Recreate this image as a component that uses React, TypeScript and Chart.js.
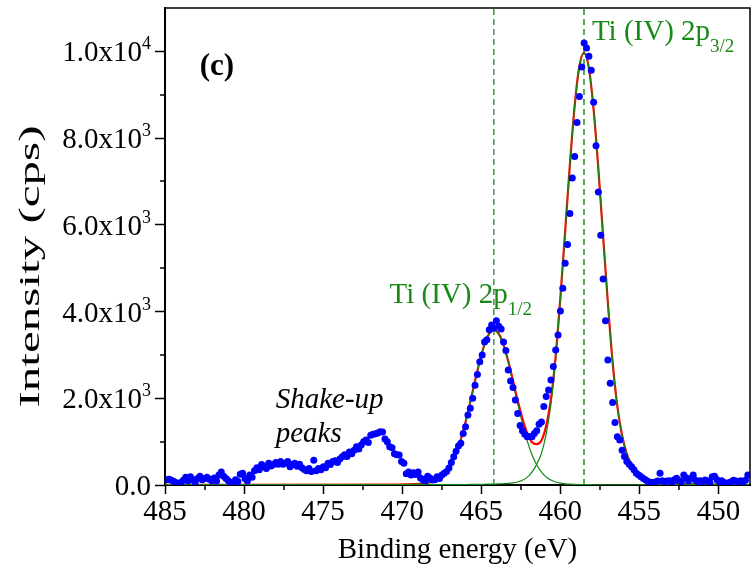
import React, { useEffect, useRef } from "react";
import { Chart, registerables } from "chart.js";

Chart.register(...registerables);

// ---------- axes ----------
const X_MIN = 448;
const X_MAX = 485;
const Y_MIN = 0;
const Y_MAX = 11000;
const X_TICKS = [485, 480, 475, 470, 465, 460, 455, 450];
const X_MINOR = [482.5, 477.5, 472.5, 467.5, 462.5, 457.5, 452.5];
const Y_TICKS = [0, 2000, 4000, 6000, 8000, 10000];
const Y_MINOR = [1000, 3000, 5000, 7000, 9000];

// ---------- measured spectrum (binding energy grid start/step, intensity in cps) ----------
const ENERGY_START = 484.89;
const ENERGY_STEP = 0.15;
const INTENSITY = [
  120, 130, 110, 80, 50, 40, 60, 110, 180, 90,
  190, 120, 60, 150, 200, 120, 150, 180, 130, 100,
  160, 90, 230, 300, 200, 150, 100, 60, 40, 120,
  80, 250, 270, 150, 90, 230, 180, 330, 400, 350,
  470, 420, 380, 500, 440, 470, 520, 480, 540, 480,
  500, 540, 420, 470, 500, 430, 480, 400, 360, 330,
  380, 310, 570, 330, 380, 350, 420, 400, 500, 470,
  540, 560, 520, 600, 650, 700, 660, 760, 720, 800,
  880, 830, 920, 1000, 1040, 980, 1150, 1170, 1180, 1200,
  1230, 1220, 1060, 1000, 880, 860, 720, 700, 690, 540,
  500, 260, 300, 230, 280, 240, 300, 160, 120, 100,
  200, 160, 115, 120, 190, 150, 230, 270, 310, 390,
  520, 650, 780, 900, 960, 1190, 1345, 1615, 1770, 2000,
  2300, 2550, 2840, 3000, 3300, 3350, 3580, 3690, 3620, 3790,
  3660, 3600, 3300, 3100, 2650, 2400, 2250, 1960, 1650, 1370,
  1250, 1170, 1110, 1120, 1115, 1190, 1250, 1400, 1450, 1810,
  2040, 2190, 2420, 2730, 3115, 3460, 4010, 4540, 5115, 5546,
  6262, 7077, 7577, 8362, 8962, 9639, 10193, 10077, 9885, 9562,
  8824, 7824, 6755, 5762, 4750, 3790, 2885, 2347, 1900, 1440,
  1115, 1040, 800, 655, 540, 480, 420, 350, 270, 230,
  190, 150, 115, 80, 60, 55, 70, 90, 270, 100,
  75, 90, 100, 60, 120, 155, 100, 80, 230, 170,
  100, 150, 230, 110, 75, 100, 80, 115, 90, 60,
  190, 200, 120, 75, 100, 60, 40, 50, 75, 110,
  90, 80, 100, 70, 110, 230,
];

// ---------- fitted curves ----------
const FIT_X = [
  485,
  470.2, 469.9, 469.6, 469.3, 469.0, 468.7, 468.4, 468.1, 467.8, 467.5,
  467.2, 466.9, 466.6, 466.3, 466.0, 465.7, 465.4, 465.1, 464.8, 464.5,
  464.2, 463.9, 463.6, 463.3, 463.0, 462.7, 462.4, 462.1, 461.8, 461.5,
  461.2, 460.9, 460.6, 460.3, 460.0, 459.7, 459.4, 459.1, 458.8, 458.5,
  458.2, 457.9, 457.6, 457.3, 457.0, 456.7, 456.4, 456.1, 455.8, 455.5,
  455.2, 454.9, 454.6, 454.3, 454.0, 453.7, 453.4, 453.1, 452.8, 452.5,
  452.2,
  448,
];
const FIT_2P12 = [
  0,
  7, 8, 10, 14, 19, 28, 43, 69, 115, 188,
  302, 472, 703, 1028, 1429, 1889, 2373, 2834, 3217, 3471,
  3560, 3471, 3217, 2834, 2373, 1889, 1429, 1028, 703, 472,
  302, 188, 115, 69, 43, 28, 19, 14, 10, 8,
  7, 6, 6, 5, 5, 4, 4, 4, 3, 3,
  3, 3, 3, 2, 2, 2, 2, 2, 2, 2,
  2,
  1,
];
const FIT_2P32 = [
  2,
  5, 5, 5, 5, 6, 6, 6, 7, 7, 8,
  8, 9, 10, 11, 12, 13, 14, 15, 17, 19,
  21, 24, 29, 36, 48, 70, 108, 175, 290, 470,
  720, 1160, 1840, 2870, 4250, 5780, 7330, 8690, 9630, 9960,
  9630, 8690, 7330, 5780, 4250, 2870, 1840, 1160, 720, 470,
  290, 175, 108, 70, 48, 36, 29, 24, 21, 19,
  17,
  5,
];
const FIT_ENVELOPE = [
  2,
  12, 13, 15, 19, 25, 34, 49, 76, 122, 196,
  310, 481, 713, 1039, 1441, 1902, 2387, 2849, 3234, 3490,
  3581, 3495, 3246, 2870, 2421, 1959, 1537, 1203, 993, 942,
  1022, 1348, 1955, 2939, 4293, 5808, 7349, 8704, 9640, 9968,
  9637, 8696, 7336, 5785, 4255, 2874, 1844, 1164, 723, 473,
  293, 178, 111, 72, 50, 38, 31, 26, 23, 21,
  19,
  6,
];

// ---------- peak positions (eV) ----------
const PEAK_2P12 = 464.2;
const PEAK_2P32 = 458.5;

const FONT = "'Liberation Serif', 'Times New Roman', serif";
const GREEN_TEXT = "#178a17";
const Y_TITLE = "Intensity (cps)";

type Part = { t: string; size: number; dy: number; style?: string };

function drawRich(
  ctx: CanvasRenderingContext2D,
  x: number,
  y: number,
  parts: Part[],
  color: string,
  align: "left" | "right"
) {
  ctx.fillStyle = color;
  ctx.textBaseline = "alphabetic";
  ctx.textAlign = "left";
  const widths = parts.map((p) => {
    ctx.font = `${p.style || ""} ${p.size}px ${FONT}`;
    return ctx.measureText(p.t).width;
  });
  const total = widths.reduce((a, b) => a + b, 0);
  let cx = align === "right" ? x - total : x;
  parts.forEach((p, i) => {
    ctx.font = `${p.style || ""} ${p.size}px ${FONT}`;
    ctx.fillText(p.t, cx, y + p.dy);
    cx += widths[i];
  });
}

const decorPlugin = {
  id: "decor",
  afterDraw(chart: any) {
    const { ctx, chartArea: a, scales } = chart;
    const xs = scales.x;
    const ys = scales.y;
    ctx.save();
    // top & right frame
    ctx.strokeStyle = "#000";
    ctx.lineWidth = 1.5;
    ctx.beginPath();
    ctx.moveTo(a.left, a.top);
    ctx.lineTo(a.right, a.top);
    ctx.lineTo(a.right, a.bottom);
    ctx.stroke();
    // minor ticks
    X_MINOR.forEach((v) => {
      const px = Math.round(xs.getPixelForValue(v));
      ctx.beginPath();
      ctx.moveTo(px, a.bottom);
      ctx.lineTo(px, a.bottom + 5);
      ctx.stroke();
    });
    Y_MINOR.forEach((v) => {
      const py = Math.round(ys.getPixelForValue(v));
      ctx.beginPath();
      ctx.moveTo(a.left, py);
      ctx.lineTo(a.left - 5, py);
      ctx.stroke();
    });
    // y tick labels with superscripts
    Y_TICKS.forEach((v) => {
      const py = ys.getPixelForValue(v);
      let parts: Part[];
      if (v === 0) {
        parts = [{ t: "0.0", size: 29, dy: 0 }];
      } else {
        const e = Math.floor(Math.log10(v));
        const m = (v / Math.pow(10, e)).toFixed(1);
        parts = [
          { t: `${m}x10`, size: 29, dy: 0 },
          { t: `${e}`, size: 18, dy: -12 },
        ];
      }
      drawRich(ctx, a.left - 14, py + 10, parts, "#000", "right");
    });
    // y axis title (stretched along its length as in the reference)
    ctx.save();
    ctx.font = `30px ${FONT}`;
    const w = ctx.measureText(Y_TITLE).width;
    ctx.translate(31, (a.top + a.bottom) / 2 + 20);
    ctx.rotate(-Math.PI / 2);
    ctx.scale(282 / w, 1);
    ctx.fillStyle = "#000";
    ctx.textAlign = "center";
    ctx.textBaseline = "middle";
    ctx.fillText(Y_TITLE, 0, 0);
    ctx.restore();
    // annotations
    const px = (v: number) => xs.getPixelForValue(v);
    const py = (v: number) => ys.getPixelForValue(v);
    drawRich(ctx, px(482.8), py(9460), [{ t: "(c)", size: 31, dy: 0, style: "bold" }], "#000", "left");
    drawRich(
      ctx,
      px(458.0),
      py(10270),
      [
        { t: "Ti (IV) 2p", size: 29, dy: 0 },
        { t: "3/2", size: 19, dy: 12 },
      ],
      GREEN_TEXT,
      "left"
    );
    drawRich(
      ctx,
      px(470.8),
      py(4200),
      [
        { t: "Ti (IV) 2p", size: 29, dy: 0 },
        { t: "1/2", size: 19, dy: 12 },
      ],
      GREEN_TEXT,
      "left"
    );
    drawRich(ctx, px(478.0), py(1770), [{ t: "Shake-up", size: 29, dy: 0, style: "italic" }], "#000", "left");
    drawRich(ctx, px(478.0), py(1000), [{ t: "peaks", size: 29, dy: 0, style: "italic" }], "#000", "left");
    ctx.restore();
  },
};

export default function App() {
  const ref = useRef<HTMLCanvasElement>(null);

  useEffect(() => {
    document.body.style.margin = "0";
    const canvas = ref.current;
    if (!canvas) return;

    const spectrum = INTENSITY.map((v, i) => ({
      x: +(ENERGY_START - i * ENERGY_STEP).toFixed(2),
      y: v,
    }));
    const curve = (ys: number[]) => FIT_X.map((x, i) => ({ x, y: ys[i] }));

    const chart = new Chart(canvas, {
      type: "scatter",
      data: {
        datasets: [
          {
            label: "data",
            data: spectrum,
            pointRadius: 3.5,
            pointBackgroundColor: "#0000ff",
            pointBorderWidth: 0,
            showLine: false,
            order: 0,
          } as any,
          {
            label: "2p1/2",
            data: curve(FIT_2P12),
            showLine: true,
            pointRadius: 0,
            borderColor: "#118811",
            borderWidth: 1.2,
            cubicInterpolationMode: "monotone",
            order: 1,
          },
          {
            label: "2p3/2",
            data: curve(FIT_2P32),
            showLine: true,
            pointRadius: 0,
            borderColor: "#118811",
            borderWidth: 1.2,
            cubicInterpolationMode: "monotone",
            order: 1,
          },
          {
            label: "envelope",
            data: curve(FIT_ENVELOPE),
            showLine: true,
            pointRadius: 0,
            borderColor: "#ff0000",
            borderWidth: 2.2,
            cubicInterpolationMode: "monotone",
            order: 2,
          },
          {
            label: "line12",
            data: [
              { x: PEAK_2P12, y: Y_MIN },
              { x: PEAK_2P12, y: Y_MAX },
            ],
            showLine: true,
            pointRadius: 0,
            borderColor: "#2a7d2a",
            borderWidth: 1.3,
            borderDash: [6, 4],
            order: 3,
          },
          {
            label: "line32",
            data: [
              { x: PEAK_2P32, y: Y_MIN },
              { x: PEAK_2P32, y: Y_MAX },
            ],
            showLine: true,
            pointRadius: 0,
            borderColor: "#55b055",
            borderWidth: 2,
            borderDash: [6, 4],
            order: 3,
          },
        ],
      },
      options: {
        responsive: false,
        animation: false,
        devicePixelRatio: 1,
        events: [],
        layout: { padding: { top: 8, right: 2, left: 0, bottom: 0 } },
        plugins: {
          legend: { display: false },
          tooltip: { enabled: false },
        },
        scales: {
          x: {
            type: "linear",
            min: X_MIN,
            max: X_MAX,
            reverse: true,
            afterBuildTicks: (s: any) => {
              s.ticks = X_TICKS.map((value) => ({ value }));
            },
            afterFit: (s: any) => {
              s.height = 91;
            },
            grid: {
              display: true,
              drawOnChartArea: false,
              drawTicks: true,
              tickLength: 9,
              tickWidth: 1.5,
              tickColor: "#000",
            },
            border: { display: true, color: "#000", width: 2 },
            ticks: {
              font: { family: FONT, size: 29 },
              color: "#000",
              padding: 1,
              maxRotation: 0,
              autoSkip: false,
              callback: (v: any) => `${v}`,
            },
            title: {
              display: true,
              text: "Binding energy (eV)",
              font: { family: FONT, size: 29 },
              color: "#000",
              padding: { top: 0, bottom: 8 },
            },
          },
          y: {
            type: "linear",
            min: Y_MIN,
            max: Y_MAX,
            afterBuildTicks: (s: any) => {
              s.ticks = Y_TICKS.map((value) => ({ value }));
            },
            afterFit: (s: any) => {
              s.width = 165;
            },
            grid: {
              display: true,
              drawOnChartArea: false,
              drawTicks: true,
              tickLength: 10,
              tickWidth: 1.5,
              tickColor: "#000",
            },
            border: { display: true, color: "#000", width: 2 },
            ticks: { display: false },
            title: { display: false },
          },
        },
      },
      plugins: [decorPlugin],
    });

    return () => chart.destroy();
  }, []);

  return (
    <div style={{ width: 754, height: 576 }}>
      <canvas ref={ref} width={754} height={576} style={{ display: "block" }} />
    </div>
  );
}
